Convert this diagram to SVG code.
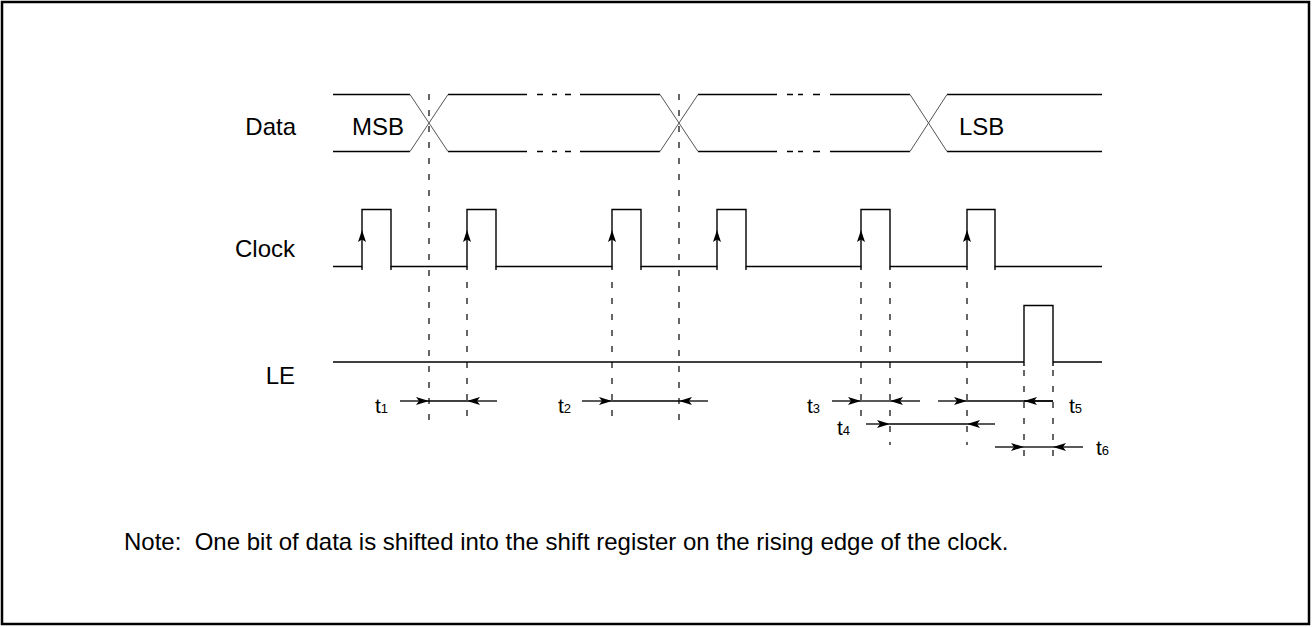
<svg xmlns="http://www.w3.org/2000/svg" width="1312" height="627" viewBox="0 0 1312 627">
<style>
.sig{fill:none;stroke:#000;stroke-width:1.4}
.x{fill:none;stroke:#555;stroke-width:1}
.dash{fill:none;stroke:#000;stroke-width:1.2;stroke-dasharray:6 10}
.dim{fill:none;stroke:#000;stroke-width:1.3}
.lbl{font-family:"Liberation Sans",Arial,sans-serif;font-size:24px;fill:#000}
.tl{font-family:"Liberation Sans",Arial,sans-serif;font-size:21px;fill:#000}
.sub{font-size:13px}
</style>
<defs>
<marker id="ah" viewBox="-14 -5 15 10" refX="0" refY="0" markerWidth="15" markerHeight="10" markerUnits="userSpaceOnUse" orient="auto">
<path d="M0,0 L-13,-4 L-10,0 L-13,4 Z" fill="#000"/>
</marker>
</defs>
<rect x="2" y="2" width="1307" height="622" fill="#fff" stroke="#000" stroke-width="2.5"/>

<g id="data">
<text class="lbl" x="296" y="135" text-anchor="end">Data</text>
<path class="sig" d="M333,94.5H410 M448,94.5H527 M580,94.5H660 M698,94.5H777 M830,94.5H910 M947,94.5H1102"/>
<path class="sig" d="M333,151.5H410 M448,151.5H527 M580,151.5H660 M698,151.5H777 M830,151.5H910 M947,151.5H1102"/>
<path class="sig" d="M537,94.5H543 M552,94.5H557 M565,94.5H571 M537,151.5H543 M552,151.5H557 M565,151.5H571 M787,94.5H793 M798,94.5H803 M813,94.5H820 M787,151.5H793 M798,151.5H803 M813,151.5H820"/>
<path class="x" d="M410,94.5L448,151.5 M410,151.5L448,94.5 M660,94.5L698,151.5 M660,151.5L698,94.5 M910,94.5L947,151.5 M910,151.5L947,94.5"/>
<text class="lbl" x="352" y="135">MSB</text>
<text class="lbl" x="959" y="135">LSB</text>
</g>

<g id="clock">
<text class="lbl" x="295" y="257" text-anchor="end">Clock</text>
<path class="sig" d="M333,266.5H362V209.5H391V266.5H467V209.5H496V266.5H612V209.5H641V266.5H717V209.5H746V266.5H861V209.5H890V266.5H967V209.5H995V266.5H1102"/>
<path class="sig" d="M362,266.5V270 M391,266.5V270 M467,266.5V270 M496,266.5V270 M612,266.5V270 M641,266.5V270 M717,266.5V270 M746,266.5V270 M861,266.5V270 M890,266.5V270 M967,266.5V270 M995,266.5V270"/>
<g fill="#000">
<path d="M362,230 L358,242 L362,239.5 L366,242 Z"/>
<path d="M467,230 L463,242 L467,239.5 L471,242 Z"/>
<path d="M612,230 L608,242 L612,239.5 L616,242 Z"/>
<path d="M717,230 L713,242 L717,239.5 L721,242 Z"/>
<path d="M861,230 L857,242 L861,239.5 L865,242 Z"/>
<path d="M967,230 L963,242 L967,239.5 L971,242 Z"/>
</g>
</g>

<g id="le">
<text class="lbl" x="295" y="384" text-anchor="end">LE</text>
<path class="sig" d="M333,362H1024V305.5H1053V362H1102 M1024,362V366 M1053,362V366"/>
</g>

<g id="guides">
<path class="dash" d="M429,94V420 M679,94V420 M467,282V420 M612,282V420 M861,282V420 M890,282V445 M967,282V445 M1024,370V460 M1053,370V460"/>
</g>

<g id="connectors">
<path class="dim" d="M400,401H429" marker-end="url(#ah)"/>
<path class="dim" d="M429,401H467"/>
<path class="dim" d="M497,401H467" marker-end="url(#ah)"/>
<path class="dim" d="M582,401H612" marker-end="url(#ah)"/>
<path class="dim" d="M612,401H679"/>
<path class="dim" d="M708,401H679" marker-end="url(#ah)"/>
<path class="dim" d="M832,401H861" marker-end="url(#ah)"/>
<path class="dim" d="M861,401H890"/>
<path class="dim" d="M920,401H890" marker-end="url(#ah)"/>
<path class="dim" d="M938,401H967" marker-end="url(#ah)"/>
<path class="dim" d="M967,401H1053"/>
<path class="dim" d="M1053,401H1024" marker-end="url(#ah)"/>
<path class="dim" d="M866,424H890" marker-end="url(#ah)"/>
<path class="dim" d="M890,424H967"/>
<path class="dim" d="M995,424H967" marker-end="url(#ah)"/>
<path class="dim" d="M995,447H1024" marker-end="url(#ah)"/>
<path class="dim" d="M1024,447H1053"/>
<path class="dim" d="M1083,447H1053" marker-end="url(#ah)"/>
</g>

<g id="timing-labels">
<text class="tl" x="375" y="413">t<tspan class="sub">1</tspan></text>
<text class="tl" x="558" y="413">t<tspan class="sub">2</tspan></text>
<text class="tl" x="807" y="413">t<tspan class="sub">3</tspan></text>
<text class="tl" x="837" y="435">t<tspan class="sub">4</tspan></text>
<text class="tl" x="1069" y="413">t<tspan class="sub">5</tspan></text>
<text class="tl" x="1096" y="455">t<tspan class="sub">6</tspan></text>
</g>

<g id="note">
<text class="lbl" x="124" y="550" xml:space="preserve">Note:  One bit of data is shifted into the shift register on the rising edge of the clock.</text>
</g>
</svg>
